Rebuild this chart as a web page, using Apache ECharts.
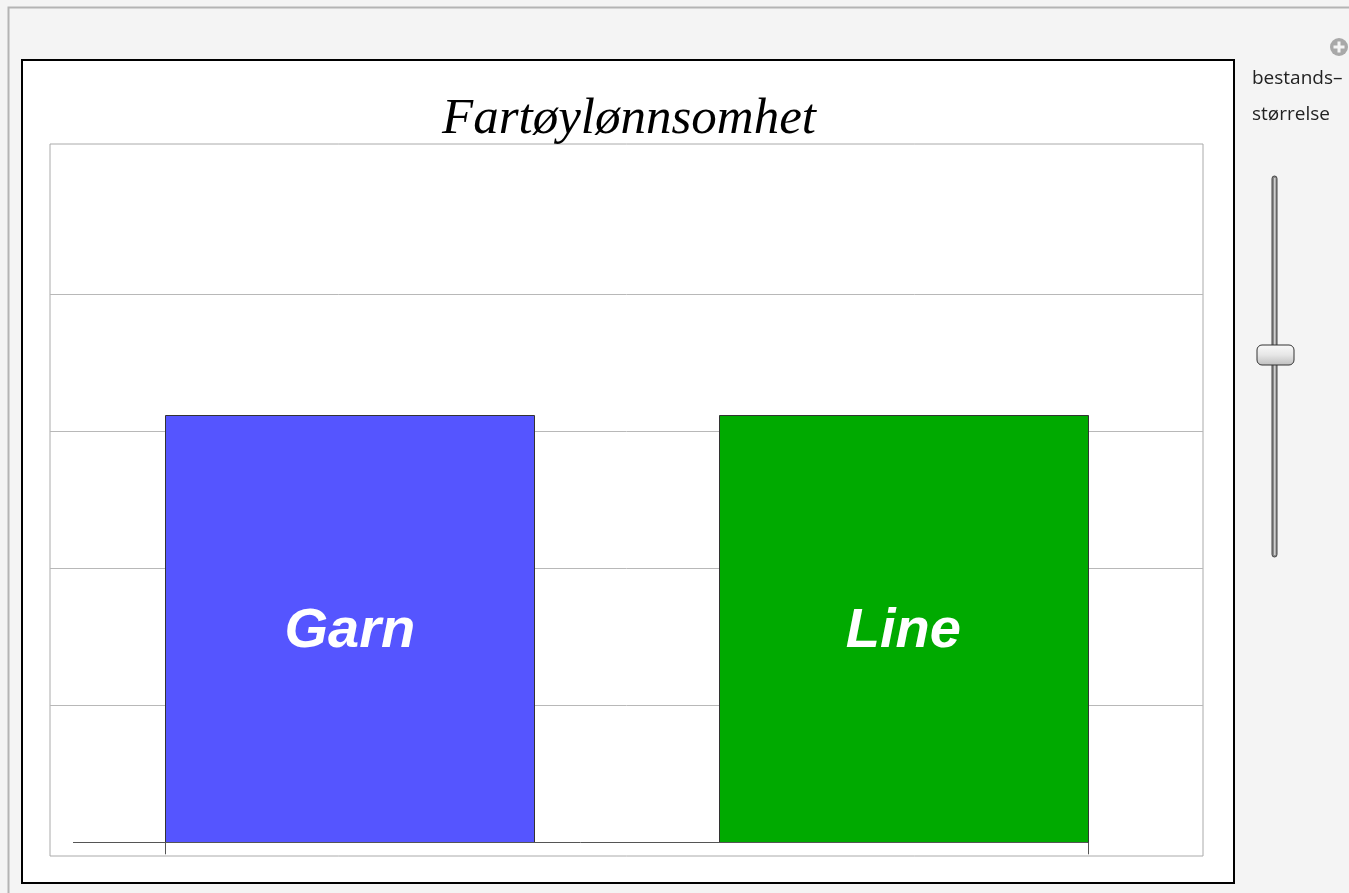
<!DOCTYPE html>
<html>
<head>
<meta charset="utf-8">
<script src="https://cdn.jsdelivr.net/npm/echarts@6/dist/echarts.min.js"></script>
<style>
html, body { margin: 0; padding: 0; background: #f4f4f4; }
#main { width: 1349px; height: 893px; }
</style>
</head>
<body>
<div id="main"></div>
<script>
var myChart = echarts.init(document.getElementById('main'));

// data
var categories = ['Garn', 'Line'];
var positions = [1, 2];
var values = [3.12, 3.12];
var barColors = ['#5555ff', '#00aa00'];
var gridValues = [1, 2, 3, 4];
var halfWidth = 1 / 3;

var barData = categories.map(function (name, i) {
	return { name: name, value: [positions[i], values[i]] };
});

var option = {
	animation: false,
	backgroundColor: '#f4f4f4',
	title: {
		text: 'Fartøylønnsomhet',
		left: 624,
		textAlign: 'center',
		top: 89,
		textStyle: {
			fontFamily: 'Liberation Serif',
			fontStyle: 'italic',
			fontWeight: 'normal',
			fontSize: 51,
			color: '#000'
		}
	},
	graphic: [
		// outer panel
		{ type: 'rect', z: -10, shape: { x: 8.5, y: 7.5, width: 1360, height: 900 },
			style: { fill: '#f4f4f4', stroke: '#b4b4b4', lineWidth: 2 } },
		// white chart box
		{ type: 'rect', z: -9, shape: { x: 22, y: 60, width: 1212, height: 823 },
			style: { fill: '#fff', stroke: '#000', lineWidth: 2 } },
		// plus icon
		{ type: 'circle', shape: { cx: 1339, cy: 47, r: 9 }, style: { fill: '#a8a8a8' } },
		{ type: 'rect', shape: { x: 1333.5, y: 45.5, width: 11, height: 3 }, style: { fill: '#f4f4f4' } },
		{ type: 'rect', shape: { x: 1337.5, y: 41.5, width: 3, height: 11 }, style: { fill: '#f4f4f4' } },
		// slider label
		{ type: 'text', left: 1252, top: 69, style: { text: 'bestands–', font: '19px "Open Sans", sans-serif', fill: '#222' } },
		{ type: 'text', left: 1252, top: 105, style: { text: 'størrelse', font: '19px "Open Sans", sans-serif', fill: '#222' } },
		// slider track
		{ type: 'rect', shape: { x: 1272, y: 176, width: 5, height: 381, r: 2.5 },
			style: { fill: '#8a8a8a', stroke: '#444', lineWidth: 1 } },
		{ type: 'rect', shape: { x: 1274, y: 178, width: 1.5, height: 377 },
			style: { fill: '#cfcfcf' } },
		// slider thumb
		{ type: 'rect', shape: { x: 1257, y: 345, width: 37, height: 20, r: 5 },
			style: {
				stroke: '#333', lineWidth: 1,
				fill: new echarts.graphic.LinearGradient(0, 0, 0, 1, [
					{ offset: 0, color: '#fafafa' },
					{ offset: 0.5, color: '#e6e6e6' },
					{ offset: 1, color: '#bdbdbd' }
				])
			} }
	],
	grid: {
		left: 50,
		top: 144,
		width: 1153,
		height: 712,
		show: true,
		backgroundColor: '#fff',
		borderColor: '#aaaaaa',
		borderWidth: 1
	},
	xAxis: {
		type: 'value',
		min: 0.4584,
		max: 2.5415,
		splitLine: { show: false },
		axisLabel: { show: false },
		axisLine: { show: false, onZero: true },
		axisTick: {
			show: true,
			inside: false,
			length: 12,
			customValues: [positions[0] - halfWidth, positions[1] + halfWidth],
			lineStyle: { color: '#555', width: 1 }
		}
	},
	yAxis: {
		type: 'value',
		min: -0.1,
		max: 5.1,
		axisLine: { show: false },
		axisTick: { show: false },
		axisLabel: { show: false },
		splitLine: { show: false }
	},
	series: [{
		// grid lines, below the bars
		type: 'line',
		data: [],
		z: 1,
		markLine: {
			z: 1,
			silent: true,
			symbol: 'none',
			label: { show: false },
			lineStyle: { color: '#b8b8b8', width: 1, type: 'solid' },
			data: gridValues.map(function (g) {
				return { yAxis: g };
			})
		}
	}, {
		type: 'custom',
		z: 3,
		data: barData,
		renderItem: function (params, api) {
			var x = api.value(0), v = api.value(1);
			var p0 = api.coord([x - halfWidth, v]);
			var p1 = api.coord([x + halfWidth, 0]);
			var mid = api.coord([x, v / 2]);
			return {
				type: 'group',
				children: [{
					type: 'rect',
					shape: { x: Math.round(p0[0]) + 0.5, y: Math.round(p0[1]) + 0.5,
						width: Math.round(p1[0] - p0[0]), height: Math.round(p1[1] - p0[1]) },
					style: { fill: barColors[params.dataIndex], stroke: '#333', lineWidth: 1 }
				}, {
					type: 'text',
					x: mid[0],
					y: mid[1] + 3,
					style: {
						text: categories[params.dataIndex],
						align: 'center',
						verticalAlign: 'middle',
						font: 'italic bold 56px "Liberation Sans", Arial, sans-serif',
						fill: '#fff'
					}
				}]
			};
		},
		markLine: {
			z: 4,
			silent: true,
			symbol: 'none',
			label: { show: false },
			lineStyle: { color: '#555', width: 1, type: 'solid' },
			data: [[
				{ coord: [positions[0] - halfWidth - 1 / 6, 0] },
				{ coord: [positions[1] + halfWidth, 0] }
			]]
		}
	}]
};
myChart.setOption(option);
</script>
</body>
</html>
